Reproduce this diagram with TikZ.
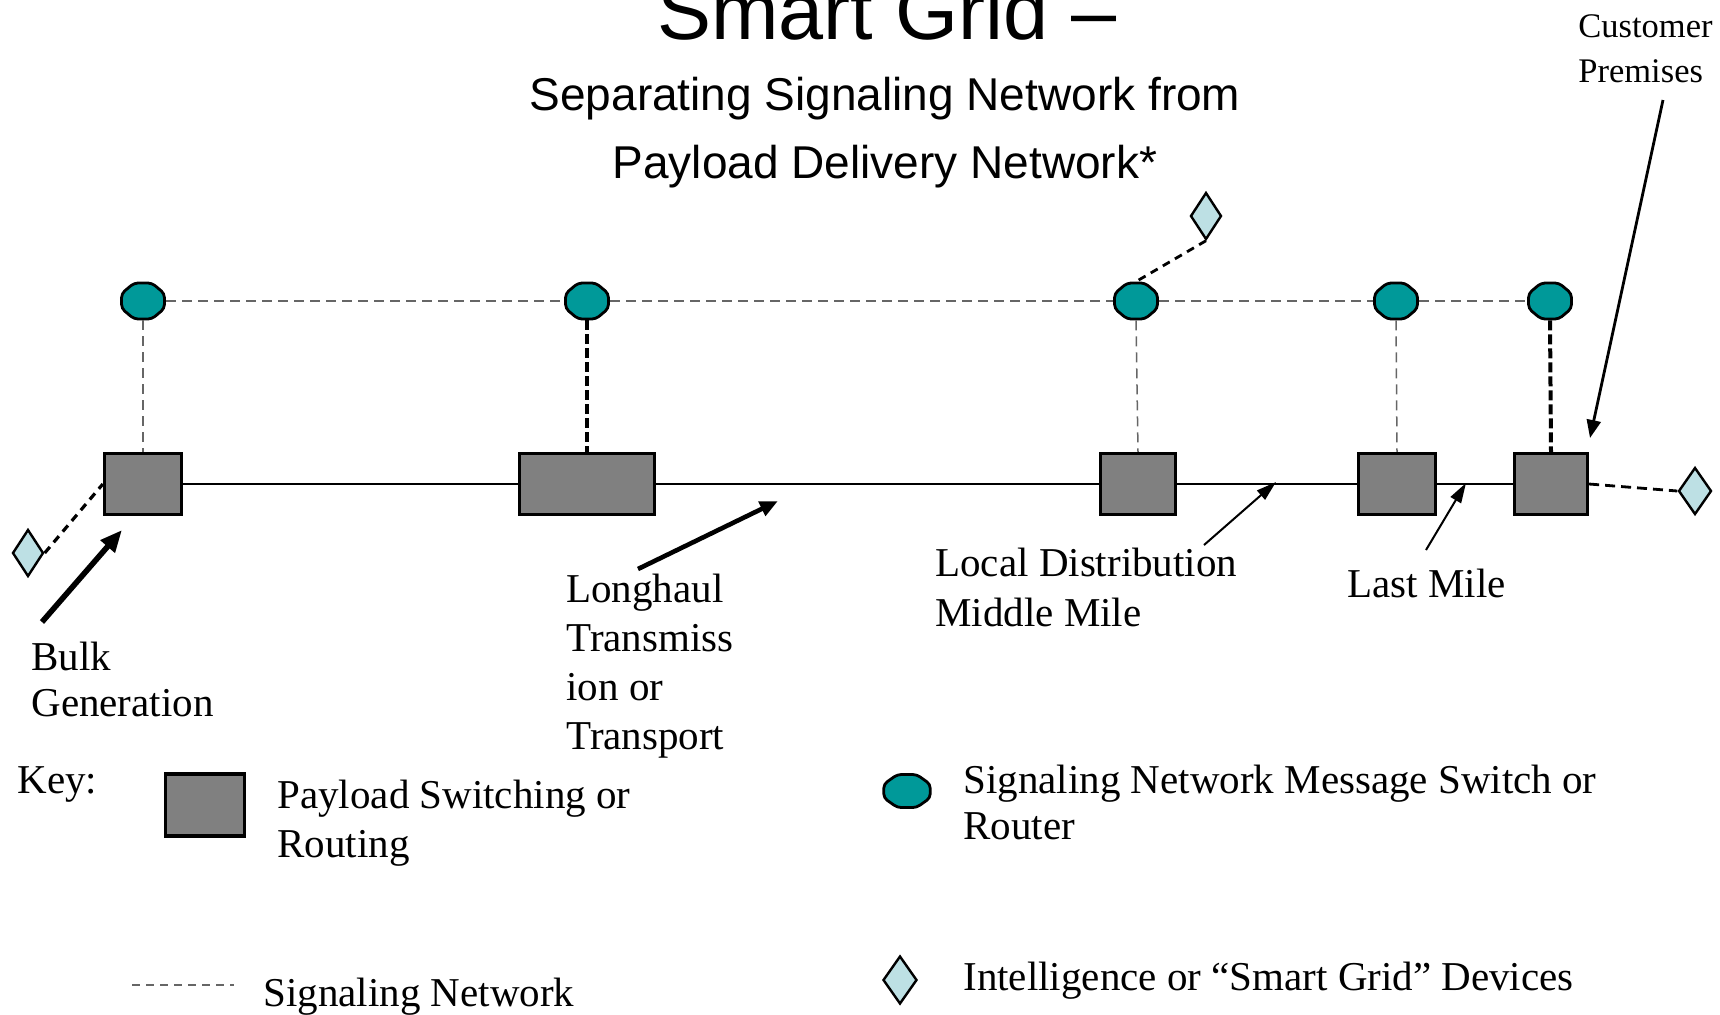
\documentclass[tikz,border=0pt]{standalone}
\usepackage{fontspec}
\setmainfont{Liberation Serif}
\newfontfamily\headfont{Liberation Sans}
\usepackage{tikz}
\usetikzlibrary{shapes.geometric,arrows.meta}
\definecolor{routerteal}{RGB}{0,153,153}
\definecolor{devicecyan}{RGB}{189,224,228}
\definecolor{boxgray}{RGB}{128,128,128}
\tikzstyle{payload} = [rectangle, draw, fill=boxgray, line width=1.65pt, minimum height=30.5pt, inner sep=0pt]
\tikzstyle{router} = [regular polygon, regular polygon sides=8, draw, fill=routerteal, line width=1.4pt, minimum size=19.5pt, inner sep=0pt, rounded corners=2pt, xscale=1.19]
\tikzstyle{device} = [diamond, draw, fill=devicecyan, line width=1.2pt, minimum width=15.5pt, minimum height=23.5pt, inner sep=0pt]
\tikzstyle{note} = [anchor=base west, align=left, inner sep=0pt, font=\fontsize{20.5}{24.5}\selectfont]
\tikzstyle{siglink} = [draw=black!60, line width=0.75pt, dash pattern=on 5pt off 3pt]
\tikzstyle{sigthick} = [draw, line width=2pt, dash pattern=on 5pt off 2pt]
\tikzstyle{pointer} = [draw, -{Triangle[length=10pt,width=8pt]}]

\begin{document}
\begin{tikzpicture}[x=0.5pt,y=-0.5pt]
    \useasboundingbox (0,0) rectangle (1720,1014);
    % headings
    \node[anchor=base, font=\headfont\fontsize{40.5}{48}\selectfont] (title) at (887,39) {Smart Grid –};
    \node[anchor=base, align=center, font=\headfont\fontsize{23}{34}\selectfont] (subtitle) at (885,178)
        {Separating Signaling Network from\\Payload Delivery Network*};
    % payload delivery network
    \node[payload, minimum width=38.5pt] (b1) at (143,484) {};
    \node[payload, minimum width=67.5pt] (b2) at (587,484) {};
    \node[payload, minimum width=37.5pt] (b3) at (1138,484) {};
    \node[payload, minimum width=38.5pt] (b4) at (1397,484) {};
    \node[payload, minimum width=36.5pt] (b5) at (1551,484) {};
    \draw[line width=1.35pt] (b1.east) -- (b2.west) (b2.east) -- (b3.west) (b3.east) -- (b4.west) (b4.east) -- (b5.west);
    % signaling network
    \node[router] (r1) at (143,301) {};
    \node[router] (r2) at (587,301) {};
    \node[router] (r3) at (1136,301) {};
    \node[router] (r4) at (1396,301) {};
    \node[router] (r5) at (1550,301) {};
    \draw[siglink] (r1.east) -- (r2.west) (r2.east) -- (r3.west) (r3.east) -- (r4.west) (r4.east) -- (r5.west);
    \draw[siglink] (r1.south) -- (b1.north);
    \draw[siglink] (r3.south) -- (b3.north);
    \draw[siglink] (r4.south) -- (b4.north);
    \draw[sigthick] (r2.south) -- (b2.north);
    \draw[sigthick] (r5.south) -- (b5.north);
    % smart grid devices
    \node[device] (d1) at (28,553) {};
    \node[device] (d2) at (1206,216) {};
    \node[device, minimum width=16.5pt] (d3) at (1695,491) {};
    \draw[sigthick, line width=1.6pt, dash pattern=on 4pt off 3pt] (d1.east) -- (b1.west);
    \draw[sigthick, line width=1.4pt, dash pattern=on 4pt off 3pt] (d2.south) -- (r3.north);
    \draw[sigthick, line width=1.4pt, dash pattern=on 5pt off 3pt] (b5.east) -- (d3.west);
    % segment labels (multi-line nodes sit on their last baseline)
    \node[note, font=\fontsize{20.5}{23}\selectfont] (bulk) at (31,716) {Bulk\\Generation};
    \node[note] (longhaul) at (566,749) {Longhaul\\Transmiss\\ion or\\Transport};
    \node[note, font=\fontsize{20.5}{25}\selectfont] (local) at (935,626) {Local Distribution\\Middle Mile};
    \node[note] (lastmile) at (1347,597) {Last Mile};
    \node[note, font=\fontsize{17.25}{22.5}\selectfont] (customer) at (1578,82) {Customer\\Premises};
    \coordinate (bulktail) at (42,622);     \coordinate (bulktip) at (122,530);
    \coordinate (longtail) at (638,569);    \coordinate (longtip) at (778,501);
    \coordinate (localtail) at (1204,545);  \coordinate (localtip) at (1276,482);
    \coordinate (lasttail) at (1426,550);   \coordinate (lasttip) at (1466,483);
    \coordinate (custtail) at (1663,100);   \coordinate (custtip) at (1590,438);
    \draw[pointer, line width=2.8pt, -{Triangle[length=11pt,width=9pt]}] (bulktail) -- (bulktip);
    \draw[pointer, line width=2.3pt, -{Triangle[length=9pt,width=7.5pt]}] (longtail) -- (longtip);
    \draw[pointer, line width=1pt, -{Triangle[length=10pt,width=6pt]}] (localtail) -- (localtip);
    \draw[pointer, line width=1pt, -{Triangle[length=10pt,width=6pt]}] (lasttail) -- (lasttip);
    \draw[pointer, line width=1.4pt, -{Triangle[length=9pt,width=7pt]}] (custtail) -- (custtip);
    % key
    \node[note] (key) at (17,793) {Key:};
    \node[payload, minimum width=39.5pt, minimum height=31pt] (keybox) at (205,805) {};
    \node[note] (keyboxtext) at (277,857) {Payload Switching or\\Routing};
    \node[router, minimum size=17.9pt, xscale=1.18] (keyrouter) at (907,791) {};
    \node[note, font=\fontsize{20.5}{23}\selectfont] (keyroutertext) at (963,839) {Signaling Network Message Switch or\\Router};
    \coordinate (keydashA) at (132,985);    \coordinate (keydashB) at (234,985);
    \draw[siglink, dash pattern=on 4pt off 3pt] (keydashA) -- (keydashB);
    \node[note] (keydashtext) at (263,1006) {Signaling Network};
    \node[device, minimum width=17pt, minimum height=24pt] (keydevice) at (900,980) {};
    \node[note] (keydevicetext) at (963,990) {Intelligence or “Smart Grid” Devices};
\end{tikzpicture}
\end{document}
